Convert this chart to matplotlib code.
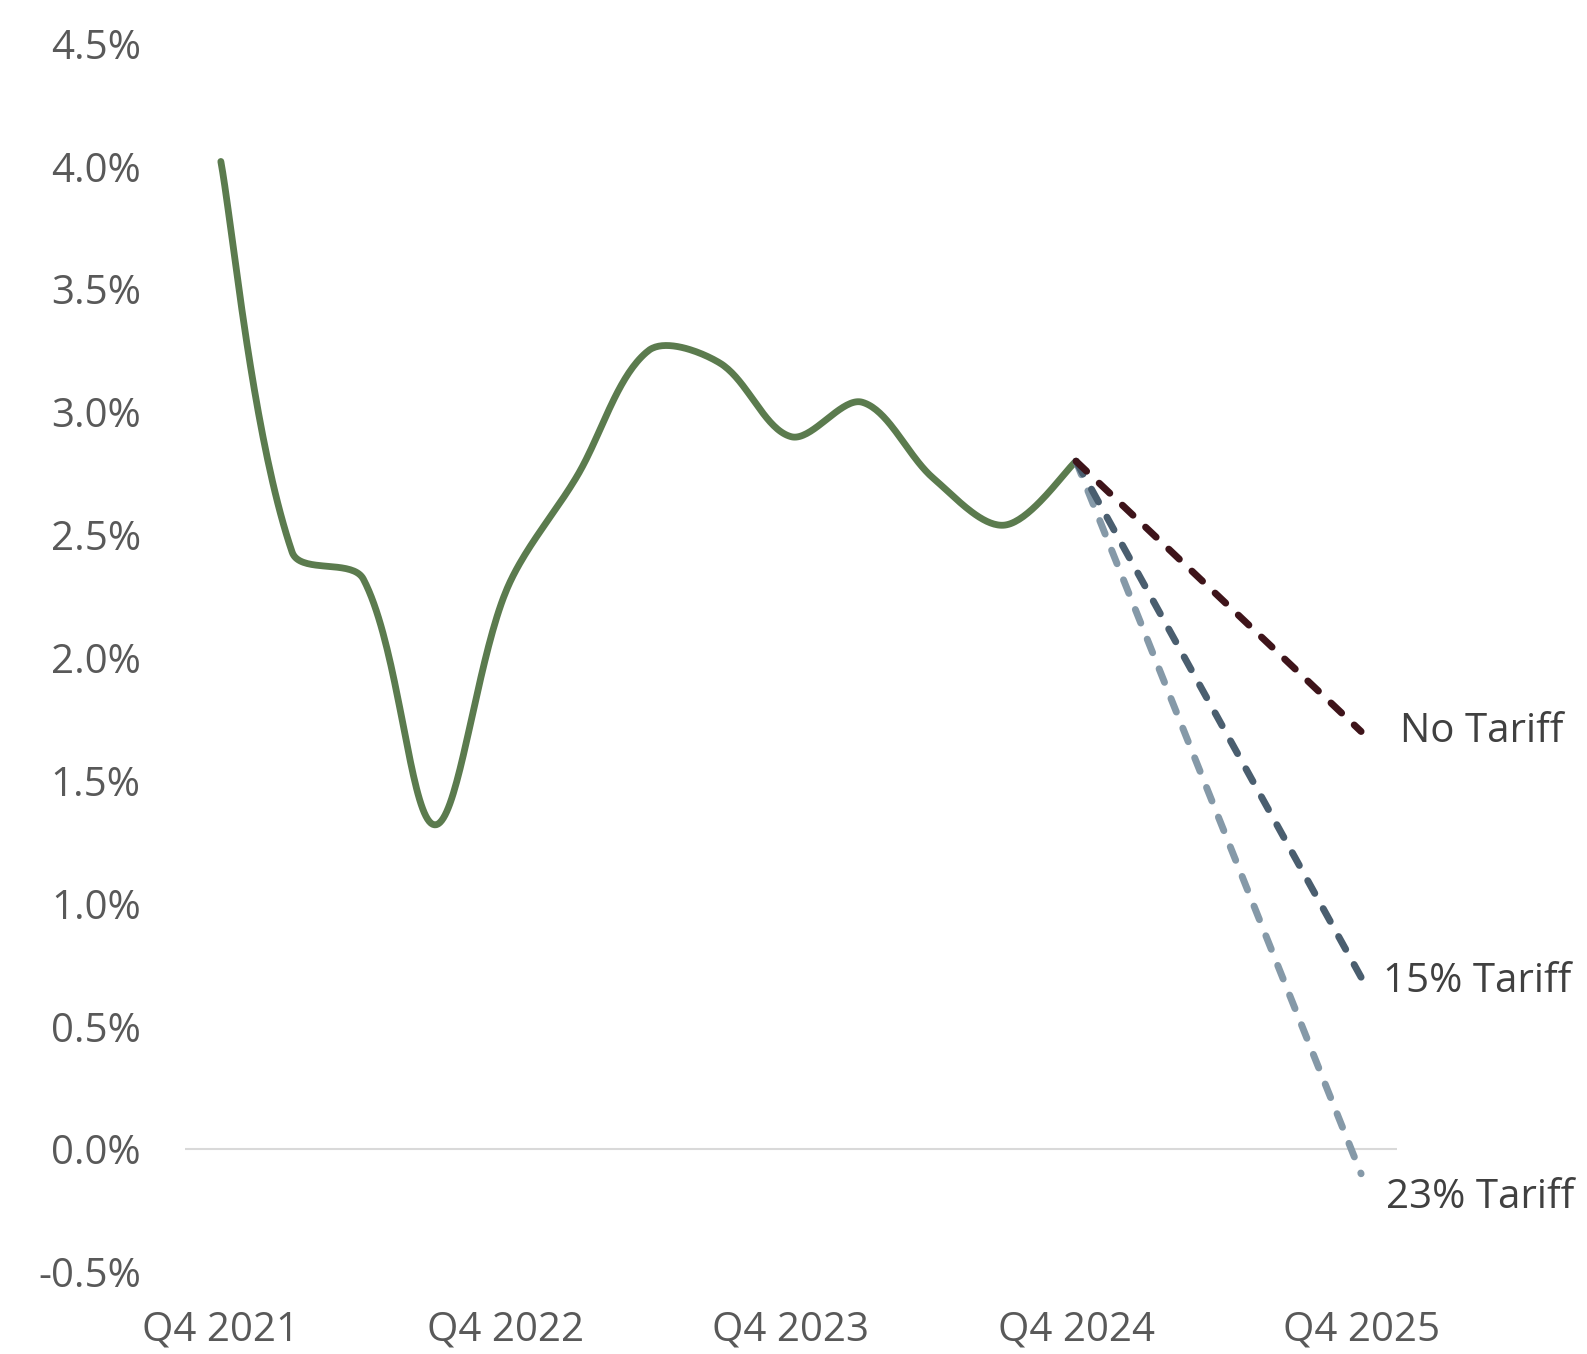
import matplotlib
matplotlib.use("Agg")
import matplotlib.pyplot as plt
import numpy as np

plt.rcParams["font.family"] = ["Open Sans", "DejaVu Sans"]

TICK_COLOR = "#595959"
LABEL_COLOR = "#404040"
ZERO_COLOR = "#D9D9D9"
GREEN = "#5B7B4E"
NO_TARIFF_COLOR = "#3E141A"
T15_COLOR = "#4A5E6F"
T23_COLOR = "#8599A8"

quarters = [
    "Q4 2021", "Q1 2022", "Q2 2022", "Q3 2022", "Q4 2022", "Q1 2023", "Q2 2023",
    "Q3 2023", "Q4 2023", "Q1 2024", "Q2 2024", "Q3 2024", "Q4 2024",
    "Q1 2025", "Q2 2025", "Q3 2025", "Q4 2025",
]
actual = [4.02, 2.43, 2.32, 1.32, 2.27, 2.74, 3.25, 3.20, 2.90, 3.04, 2.73, 2.54, 2.80]
scenario_quarters = ["Q4 2024", "Q4 2025"]
no_tariff = [2.80, 1.70]
tariff_15 = [2.80, 0.70]
tariff_23 = [2.80, -0.10]
tick_quarters = ["Q4 2021", "Q4 2022", "Q4 2023", "Q4 2024", "Q4 2025"]
y_ticks = [-0.5, 0.0, 0.5, 1.0, 1.5, 2.0, 2.5, 3.0, 3.5, 4.0, 4.5]


def smooth(x, y, yscale=3.45, n=40):
    # Bezier smoothing with chord-length weighted tangents (like Excel's smoothed line)
    P = np.column_stack([np.asarray(x, float), np.asarray(y, float) * yscale])
    m = len(P)
    L = np.linalg.norm(np.diff(P, axis=0), axis=1)
    t = np.linspace(0, 1, n)[:, None]
    out = []
    for i in range(m - 1):
        p0, p3 = P[i], P[i + 1]
        if i == 0:
            c1 = p0 + (p3 - p0) / 6
        else:
            c1 = p0 + (P[i + 1] - P[i - 1]) * L[i] / (L[i - 1] + L[i]) / 3
        if i + 2 >= m:
            c2 = p3 - (p3 - p0) / 6
        else:
            c2 = p3 - (P[i + 2] - P[i]) * L[i] / (L[i] + L[i + 1]) / 3
        b = (1 - t) ** 3 * p0 + 3 * (1 - t) ** 2 * t * c1 + 3 * (1 - t) * t ** 2 * c2 + t ** 3 * p3
        out.append(b)
    b = np.vstack(out)
    return b[:, 0], b[:, 1] / yscale


pos = {q: i for i, q in enumerate(quarters)}

fig = plt.figure(figsize=(15.87, 13.54), dpi=100)
ax = fig.add_axes([183 / 1568, 1 - 1257 / 1338, (1380 - 183) / 1568, (1257 - 43) / 1338])

ax.axhline(0, color=ZERO_COLOR, lw=1.5, zorder=1)

sx, sy = smooth([pos[q] for q in quarters[:len(actual)]], actual)
ax.plot(sx, sy, color=GREEN, lw=4.9, solid_capstyle="round", zorder=2)

sxp = [pos[q] for q in scenario_quarters]
for vals, color in [(tariff_23, T23_COLOR), (tariff_15, T15_COLOR), (no_tariff, NO_TARIFF_COLOR)]:
    ax.plot(sxp, vals, color=color, lw=5.0, dashes=(2.1, 2.5),
            dash_capstyle="round", zorder=3)

labels = [
    ("No Tariff", no_tariff[-1], 28, 0),
    ("15% Tariff", tariff_15[-1], 16, -3),
    ("23% Tariff", tariff_23[-1], 18, -17),
]
for text, val, dx, dy in labels:
    ax.annotate(text, xy=(sxp[-1], val), xytext=(dx, dy), textcoords="offset points",
                fontsize=29, color=LABEL_COLOR, ha="left", va="center",
                annotation_clip=False)

ax.set_xlim(-0.5, len(quarters) - 0.5)
ax.set_ylim(-0.5, 4.5)
ax.set_xticks([pos[q] for q in tick_quarters])
ax.set_xticklabels(tick_quarters)
ax.set_yticks(y_ticks)
ax.set_yticklabels([f"{v:.1f}%" for v in y_ticks])
ax.tick_params(axis="both", length=0, labelsize=29, colors=TICK_COLOR)
ax.tick_params(axis="y", pad=32)
ax.tick_params(axis="x", pad=27)
for spine in ax.spines.values():
    spine.set_visible(False)

fig.savefig("out.png", dpi=100, facecolor="white")
plt.close(fig)
